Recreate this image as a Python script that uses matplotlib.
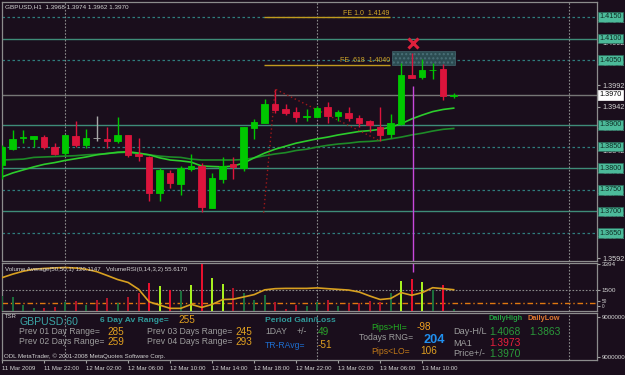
#!/usr/bin/env python3
"""
GBPUSD H1 chart in MetaTrader style: candles with two moving averages and a
Fibo expansion, a volume sub-window and the TSR info panel underneath.
"""
import numpy as np
import pandas as pd
import matplotlib.pyplot as plt
import matplotlib.transforms as mtransforms
from matplotlib.patches import Rectangle

plt.rcParams["font.family"] = ["Liberation Sans", "DejaVu Sans"]

# ---- data ----
times = pd.date_range("2009-03-11 18:00", periods=44, freq="h")

opens = [1.3807, 1.3844, 1.3870, 1.3868, 1.3873, 1.3849, 1.3836, 1.3875, 1.3854, 1.3869,
         1.3868, 1.3863, 1.3876, 1.3832, 1.3827, 1.3743, 1.3790, 1.3763, 1.3799, 1.3806,
         1.3709, 1.3776, 1.3809, 1.3801, 1.3892, 1.3905, 1.3949, 1.3936, 1.3930, 1.3919,
         1.3919, 1.3942, 1.3921, 1.3928, 1.3916, 1.3910, 1.3896, 1.3879, 1.3902, 1.4015,
         1.4010, 1.4027, 1.4030, 1.3968]
highs = [1.3853, 1.3888, 1.3888, 1.3875, 1.3876, 1.3858, 1.3878, 1.3909, 1.3891, 1.3921,
         1.3896, 1.3919, 1.3877, 1.3871, 1.3828, 1.3800, 1.3796, 1.3805, 1.3834, 1.3811,
         1.3788, 1.3827, 1.3825, 1.3896, 1.3914, 1.3960, 1.3983, 1.3949, 1.3941, 1.3937,
         1.3944, 1.3953, 1.3935, 1.3941, 1.3922, 1.3912, 1.3941, 1.3925, 1.4043, 1.4066,
         1.4052, 1.4043, 1.4041, 1.3974]
lows = [1.3776, 1.3843, 1.3859, 1.3848, 1.3845, 1.3830, 1.3830, 1.3850, 1.3846, 1.3864,
        1.3846, 1.3859, 1.3827, 1.3817, 1.3725, 1.3725, 1.3755, 1.3738, 1.3794, 1.3698,
        1.3707, 1.3765, 1.3775, 1.3794, 1.3868, 1.3904, 1.3927, 1.3923, 1.3908, 1.3910,
        1.3918, 1.3904, 1.3910, 1.3910, 1.3895, 1.3884, 1.3864, 1.3869, 1.3900, 1.4008,
        1.4007, 1.4007, 1.3959, 1.3962]
closes = [1.3849, 1.3867, 1.3872, 1.3874, 1.3850, 1.3834, 1.3877, 1.3854, 1.3870, 1.3869,
          1.3864, 1.3877, 1.3831, 1.3828, 1.3743, 1.3796, 1.3765, 1.3800, 1.3805, 1.3711,
          1.3777, 1.3806, 1.3803, 1.3895, 1.3906, 1.3949, 1.3935, 1.3928, 1.3918, 1.3920,
          1.3939, 1.3921, 1.3930, 1.3916, 1.3905, 1.3900, 1.3877, 1.3904, 1.4015, 1.4009,
          1.4027, 1.4028, 1.3967, 1.3970]

ma_fast = [1.3780, 1.3789, 1.3796, 1.3803, 1.3809, 1.3813, 1.3818, 1.3822, 1.3826, 1.3831,
           1.3834, 1.3837, 1.3838, 1.3835, 1.3831, 1.3824, 1.3819, 1.3817, 1.3814, 1.3805,
           1.3804, 1.3803, 1.3805, 1.3812, 1.3824, 1.3835, 1.3844, 1.3851, 1.3858, 1.3863,
           1.3868, 1.3872, 1.3877, 1.3881, 1.3885, 1.3887, 1.3890, 1.3895, 1.3903, 1.3914,
           1.3923, 1.3931, 1.3936, 1.3939]
ma_slow = [1.3819, 1.3820, 1.3821, 1.3825, 1.3826, 1.3827, 1.3828, 1.3829, 1.3831, 1.3832,
           1.3834, 1.3836, 1.3837, 1.3833, 1.3831, 1.3828, 1.3826, 1.3825, 1.3821, 1.3819,
           1.3819, 1.3819, 1.3819, 1.3820, 1.3824, 1.3829, 1.3833, 1.3836, 1.3841, 1.3844,
           1.3849, 1.3853, 1.3856, 1.3858, 1.3861, 1.3862, 1.3864, 1.3868, 1.3872, 1.3877,
           1.3881, 1.3886, 1.3890, 1.3892]

volume = [1080, 1010, 425, 190, 190, 305, 660, 705, 425, 780,
          940, 545, 1010, 1320, 2030, 1790, 1535, 1415, 1840, 3394,
          2355, 1960, 1675, 1320, 780, 1180, 660, 140, 425, 375,
          615, 780, 375, 475, 545, 705, 615, 1320, 2170, 2310,
          2120, 1535, 1840, 120]
# G/g = up with high/low volume, R/r = down with high/low volume
vol_class = list("ggggrrgrgrrgrrRGRgGRGGrgggrrrggrgrrrrgGRGgRg")
vol_avg = [2400, 2650, 2860, 3000, 3060, 3100, 3125, 3090, 3000, 2830,
           2550, 2260, 2050, 1555, 655, 425, 190, 190, 475, 260,
           475, 825, 850, 1010, 1180, 1520, 1605, 1625, 1625, 1625,
           1660, 1605, 1555, 1505, 1365, 1080, 825, 900, 1320, 1130,
           1320, 1675, 1605, 1530]
vol_level = 1500
rsi_level = 565

solid_levels = [1.4100, 1.3900, 1.3800, 1.3700]
dashed_levels = [1.4150, 1.4050, 1.3850, 1.3750, 1.3650]

fe_bars = [24.9, 26, 36]
fe_prices = [1.3697, 1.3983, 1.3863]
fe_levels = [("FE 1.0", 1.4149), ("FE .618", 1.4040)]
fe_end_bar = 36.9

zone_bars = [37.1, 43.1]
zone_prices = [1.4039, 1.4071]
signal_bar = 39.1
signal_price = 1.4090
signal_line_top = 1.3990
signal_line_vol_end = 2830

prev_ranges = [285, 259, 245, 293]
six_day_avg = 255
gain_1day = 49
tr_ravg = -51
pips_hi, todays_rng, pips_lo = -98, 204, 106
daily_high, daily_low, ma1_value = 1.4068, 1.3863, 1.3973

# ---- style ----
BG = "#1a0e1c"
GREEN = "#00c800"
RED = "#dc143c"
DOJI = "#a8a8a8"
FRAME = "#8c8c8c"
AXTXT = "#d4d4d4"
VOLCOL = {"G": "#a6f020", "g": "#1c6e3c", "R": "#e8102e", "r": "#b0162a"}

W, H = 625, 375
fig = plt.figure(figsize=(W / 100, H / 100), dpi=100, facecolor=BG)


def add_panel(top, bottom):
    a = fig.add_axes([2 / W, 1 - bottom / H, 595 / W, (bottom - top) / H], facecolor=BG)
    for s in a.spines.values():
        s.set_color(FRAME)
        s.set_linewidth(0.9)
    return a


def ftext(x, y, s, **kw):
    kw.setdefault("va", "center")
    fig.text(x / W, 1 - y / H, s, **kw)


ax = add_panel(2, 261)
axv = add_panel(263, 311)
axt = add_panel(313, 360)

idx = np.arange(len(opens))
xlim = (-0.02, 56.65)
for a in (ax, axv, axt):
    a.set_xlim(*xlim)

o, h, l, c = map(np.asarray, (opens, highs, lows, closes))

# ---- main window ----
ax.set_ylim(1.35852, 1.41847)
for lv in solid_levels:
    ax.axhline(lv, color="#3e8c78", lw=1.0, zorder=1)
for lv in dashed_levels:
    ax.axhline(lv, color="#2f7d7d", lw=0.9, ls=(0, (2, 2)), zorder=1)
ax.axhline(c[-1], color="#767676", lw=1.0, zorder=1)

day_starts = [i for i, t in enumerate(pd.date_range(times[0], periods=57, freq="h")) if t.hour == 0]
for a in (ax, axv, axt):
    for d in day_starts:
        a.axvline(d, color="#8a8a8a", lw=0.8, ls=(0, (1.5, 1.5)), zorder=1)

ax.plot(idx, ma_slow, color="#1e8a28", lw=1.2, zorder=2)
ax.plot(idx, ma_fast, color="#2ccc2c", lw=1.2, zorder=2)

col = np.where(c > o, GREEN, np.where(c < o, RED, DOJI))
ax.vlines(idx, l, h, colors=col, lw=1.0, zorder=3)
ax.bar(idx, np.abs(c - o), bottom=np.minimum(o, c), width=0.62, color=col,
       edgecolor=col, lw=0.6, zorder=4)

# Fibo expansion
ax.plot(fe_bars, fe_prices, color="#a01818", lw=1.0, ls=(0, (1, 2)), zorder=3)
for name, lv in fe_levels:
    ax.hlines(lv, fe_bars[0], fe_end_bar, color="#c09a1e", lw=1.0, zorder=2)
    ax.text(fe_end_bar, lv + 0.0002, f"{name}  {lv:.4f}", ha="right", va="bottom",
            fontsize=5, color="#d0a628", zorder=5)

ax.add_patch(Rectangle((zone_bars[0], zone_prices[0]), zone_bars[1] - zone_bars[0],
                       zone_prices[1] - zone_prices[0], facecolor="#2c4c52",
                       edgecolor="#4a7078", hatch="....", lw=0.4, zorder=2))
ax.plot([signal_bar], [signal_price], marker="x", ms=6.5, mew=2.2, color="#e0203c", zorder=6)
ax.vlines(signal_bar, ax.get_ylim()[0], signal_line_top, color="#c848dc", lw=1.0, zorder=2)
axv.vlines(signal_bar, signal_line_vol_end, 3450, color="#c848dc", lw=1.0, zorder=2)

# right price axis
ax.yaxis.tick_right()
ax.tick_params(axis="x", bottom=False, labelbottom=False)
ticks = np.round(1.4142 - 0.005 * np.arange(12), 4)
ax.set_yticks(ticks)
ax.set_yticklabels([f"{t:.4f}" for t in ticks])
ax.tick_params(axis="y", colors="#a0a0a0", labelcolor=AXTXT, labelsize=5.2,
               length=2.5, width=0.8, pad=1.5)
ytrans = mtransforms.blended_transform_factory(ax.transAxes, ax.transData)
for lv in solid_levels + dashed_levels:
    ax.text(1.0045, lv, f"{lv:.4f}", transform=ytrans, ha="left", va="center",
            fontsize=5.2, color="#0e2c24", clip_on=False, zorder=8,
            bbox=dict(boxstyle="square,pad=0.18", fc="#4cba9a", ec="#2a6a5a", lw=0.5))
ax.text(1.0045, c[-1], f"{c[-1]:.4f}", transform=ytrans, ha="left", va="center",
        fontsize=5.2, color="black", clip_on=False, zorder=8,
        bbox=dict(boxstyle="square,pad=0.18", fc="white", ec="white", lw=0.5))

ftext(5, 7, f"GBPUSD,H1  {o[-1]:.4f} {h[-1]:.4f} {l[-1]:.4f} {c[-1]:.4f}",
      fontsize=4.6, color=AXTXT)

# ---- volume window ----
axv.set_ylim(0, 3450)
axv.bar(idx, volume, width=0.2, color=[VOLCOL[k] for k in vol_class], zorder=3)
axv.plot(idx, vol_avg, color="#d8a020", lw=1.2, zorder=4)
axv.axhline(vol_level, color="#8a8a8a", lw=0.8, ls=(0, (1.5, 1.5)), zorder=1)
axv.axhline(rsi_level, color="#e07810", lw=1.0, ls=(0, (4, 2, 1, 2)), zorder=2)
axv.yaxis.tick_right()
axv.tick_params(axis="x", bottom=False, labelbottom=False)
axv.set_yticks([3394, vol_level, 700, 350])
axv.set_yticklabels(["3394", "1500", "50", "0"])
axv.tick_params(axis="y", colors="#a0a0a0", labelcolor=AXTXT, labelsize=4.6,
                length=2, width=0.8, pad=1.5)
for lab in axv.get_yticklabels()[2:]:
    lab.set_fontsize(3.4)
ftext(5, 269, "Volume Average(50,50,1) 120.1147   VolumeRSI(0,14,3,2) 55.6170",
      fontsize=4.4, color=AXTXT)

# ---- TSR window ----
axt.set_ylim(0, 1)
axt.yaxis.tick_right()
axt.set_yticks([0.915, 0.064])
axt.set_yticklabels(["9000000", "9000000"])
axt.tick_params(axis="y", colors="#a0a0a0", labelcolor=AXTXT, labelsize=4.4,
                length=2, width=0.8, pad=1.5)
tick_pos = idx[::4][:11]
tick_lab = ["11 Mar 2009"] + [t.strftime("%d %b %H:%M") for t in times[tick_pos[1:]]]
axt.set_xticks(tick_pos)
axt.set_xticklabels(tick_lab, ha="left")
axt.tick_params(axis="x", colors="#a0a0a0", labelcolor=AXTXT, labelsize=4.3,
                length=2.5, width=0.8, pad=1.5)

GRAY = "#9c9c9c"
TEAL = "#2f9a9a"
ORANGE = "#e0a020"
ftext(5, 317, "TSR", fontsize=4.2, color=AXTXT)
ftext(19, 322, "GBPUSD:60", fontsize=7.6, color="#3aa4a4")
ftext(100, 320, "6 Day Av Range=", fontsize=6.1, color=TEAL, fontweight="bold")
ftext(178, 320, f"{six_day_avg}", fontsize=7.2, color=ORANGE)
ftext(265, 320, "Period Gain/Loss", fontsize=6.1, color=TEAL, fontweight="bold")
for k, (x, y) in enumerate([(19, 332), (19, 342), (147, 332), (147, 342)]):
    word = "Day" if k == 0 else "Days"
    ftext(x, y, f"Prev 0{k + 1} {word} Range=", fontsize=6.2, color=GRAY)
    ftext(x + 88, y, f"{prev_ranges[k]}", fontsize=7.2, color=ORANGE)
ftext(265, 332, "1DAY", fontsize=6.2, color=GRAY)
ftext(297, 332, "+/-", fontsize=6.2, color=GRAY)
ftext(318, 332, f"{gain_1day}", fontsize=7.2, color="#2aa02a")
ftext(265, 345, "TR-RAvg=", fontsize=6.2, color="#1e6ed0")
ftext(318, 345, f"{tr_ravg}", fontsize=7.2, color=ORANGE)
ftext(371, 327, "Pips>HI=", fontsize=6.2, color="#22b022")
ftext(417, 327, f"{pips_hi}", fontsize=7.2, color="#f0a020")
ftext(359, 338, "Todays RNG=", fontsize=6.2, color=GRAY)
ftext(424, 340, f"{todays_rng}", fontsize=9.2, color="#2090f0", fontweight="bold")
ftext(371, 351, "Pips<LO=", fontsize=6.2, color="#c07818")
ftext(420, 351, f"{pips_lo}", fontsize=7.2, color=ORANGE)
ftext(488, 319, "DailyHigh", fontsize=5.3, color="#22a040", fontweight="bold")
ftext(528, 319, "DailyLow", fontsize=5.3, color="#e07830", fontweight="bold")
ftext(453, 332, "Day-H/L", fontsize=6.6, color=GRAY)
ftext(489, 332, f"{daily_high:.4f}", fontsize=7.4, color="#2a9a3a")
ftext(529, 332, f"{daily_low:.4f}", fontsize=7.4, color="#2a9a3a")
ftext(453, 343, "MA1", fontsize=6.6, color=GRAY)
ftext(489, 343, f"{ma1_value:.4f}", fontsize=7.4, color="#e8203c")
ftext(453, 354, "Price+/-", fontsize=6.6, color=GRAY)
ftext(489, 354, f"{c[-1]:.4f}", fontsize=7.4, color="#2a9a3a")
ftext(4, 356, "ODL MetaTrader, © 2001-2008 MetaQuotes Software Corp.", fontsize=4.4, color=AXTXT)

fig.savefig("out.png", dpi=100, facecolor=BG)
